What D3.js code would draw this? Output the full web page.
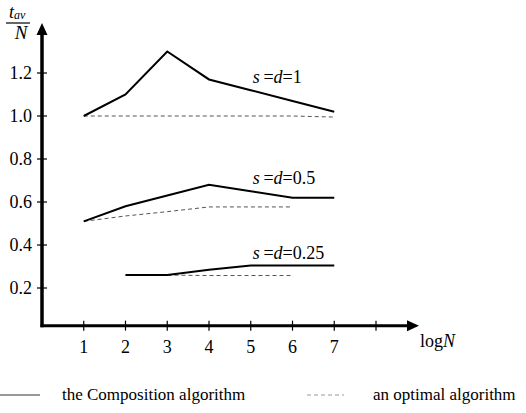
<!DOCTYPE html>
<html>
<head>
<meta charset="utf-8">
<script src="https://cdn.jsdelivr.net/npm/d3@7"></script>
<style>
  body { margin: 0; background: #fff; }
  text { font-family: "Liberation Serif", "Times New Roman", serif; fill: #000; }
</style>
</head>
<body>
<script>
var logN = [1, 2, 3, 4, 5, 6, 7];
var xTicks = [1, 2, 3, 4, 5, 6, 7, 8];
var xTickLabels = ["1", "2", "3", "4", "5", "6", "7", ""];
var yTicks = [0.2, 0.4, 0.6, 0.8, 1.0, 1.2];

// composition algorithm (solid)
var comp1 = [1.0, 1.1, 1.3, 1.17, 1.12, 1.07, 1.02];
var comp05 = [0.51, 0.58, 0.63, 0.68, 0.65, 0.62, 0.62];
var comp025 = [null, 0.26, 0.26, 0.285, 0.305, 0.305, 0.305];

// optimal algorithm (dashed)
var opt1 = [1.0, 1.0, 1.0, 1.0, 1.0, 1.0, 0.995];
var opt05 = [0.51, 0.535, 0.555, 0.577, 0.577, 0.577, null];
var opt025 = [null, 0.26, 0.26, 0.258, 0.258, 0.258, null];

var seriesLabels = [
    { s: "0.25", v: 0.335, x: 5.05 },
    { s: "0.5", v: 0.685, x: 5.05 },
    { s: "1", v: 1.155, x: 5.05 }
];

function init() {
    var w = 526, h = 413;

    var svg = d3.select("body").append("svg")
        .attr("width", w)
        .attr("height", h);

    var x = d3.scaleLinear().domain([0, 8]).range([42, 376]);
    var y = d3.scaleLinear().domain([0, 1.2]).range([331, 73]);
    var axisY = y(0.025);

    var line = d3.line()
        .defined(function(d) { return d[1] != null; })
        .x(function(d) { return x(d[0]); })
        .y(function(d) { return y(d[1]); });

    function pairs(vals) {
        return logN.map(function(n, i) { return [n, vals[i]]; });
    }

    [opt1, opt05, opt025].forEach(function(s) {
        svg.append("path")
            .attr("d", line(pairs(s)))
            .attr("fill", "none")
            .attr("stroke", "#555")
            .attr("stroke-width", 1)
            .attr("stroke-dasharray", "4,3");
    });

    [comp1, comp05, comp025].forEach(function(s) {
        svg.append("path")
            .attr("d", line(pairs(s)))
            .attr("fill", "none")
            .attr("stroke", "#000")
            .attr("stroke-width", 2)
            .attr("stroke-linejoin", "miter");
    });

    // axes
    svg.append("line")
        .attr("x1", x(0)).attr("x2", x(0))
        .attr("y1", axisY + 1.5).attr("y2", 32)
        .attr("stroke", "#000").attr("stroke-width", 3.5);
    svg.append("path")
        .attr("d", "M" + x(0) + ",23 L" + (x(0) - 5.5) + ",35 L" + (x(0) + 5.5) + ",35 Z")
        .attr("fill", "#000");

    svg.append("line")
        .attr("x1", x(0) - 1.5).attr("x2", 410)
        .attr("y1", axisY).attr("y2", axisY)
        .attr("stroke", "#000").attr("stroke-width", 3);
    svg.append("path")
        .attr("d", "M419," + axisY + " L407," + (axisY - 5.5) + " L407," + (axisY + 5.5) + " Z")
        .attr("fill", "#000");

    svg.selectAll(".xt").data(xTicks).enter().append("line")
        .attr("x1", function(d) { return x(d); })
        .attr("x2", function(d) { return x(d); })
        .attr("y1", axisY - 5).attr("y2", axisY + 5)
        .attr("stroke", "#000").attr("stroke-width", 1.2);
    svg.selectAll(".xl").data(xTicks).enter().append("text")
        .attr("x", function(d) { return x(d); })
        .attr("y", 353)
        .attr("text-anchor", "middle")
        .style("font-size", "18px")
        .text(function(d, i) { return xTickLabels[i]; });

    svg.selectAll(".yt").data(yTicks).enter().append("line")
        .attr("x1", x(0) - 5).attr("x2", x(0) + 5)
        .attr("y1", function(d) { return y(d); })
        .attr("y2", function(d) { return y(d); })
        .attr("stroke", "#000").attr("stroke-width", 1.2);
    svg.selectAll(".yl").data(yTicks).enter().append("text")
        .attr("x", 32)
        .attr("y", function(d) { return y(d) + 6; })
        .attr("text-anchor", "end")
        .style("font-size", "18px")
        .text(function(d) { return d.toFixed(1); });

    // axis titles
    var xt = svg.append("text").attr("x", 420).attr("y", 347).style("font-size", "18px");
    xt.append("tspan").text("log");
    xt.append("tspan").style("font-style", "italic").text("N");

    var yt = svg.append("text").attr("x", 9).attr("y", 18).style("font-size", "18px");
    yt.append("tspan").style("font-style", "italic").text("t");
    yt.append("tspan").style("font-style", "italic").style("font-size", "12px")
        .attr("dy", 1).text("av");
    svg.append("line").attr("x1", 6).attr("x2", 30).attr("y1", 23).attr("y2", 23)
        .attr("stroke", "#000").attr("stroke-width", 1.2);
    svg.append("text").attr("x", 21).attr("y", 39).attr("text-anchor", "middle")
        .style("font-size", "19px").style("font-style", "italic").text("N");

    // series labels
    seriesLabels.forEach(function(l) {
        var t = svg.append("text")
            .attr("x", x(l.x))
            .attr("y", y(l.v))
            .style("font-size", "18px");
        t.append("tspan").style("font-style", "italic").text("s");
        t.append("tspan").text("\u2009=");
        t.append("tspan").style("font-style", "italic").text("d");
        t.append("tspan").text("=" + l.s);
    });

    // legend
    var ly = 395;
    svg.append("line").attr("x1", 0).attr("x2", 40).attr("y1", ly).attr("y2", ly)
        .attr("stroke", "#777").attr("stroke-width", 1.5);
    svg.append("text").attr("x", 62).attr("y", ly + 5).style("font-size", "17px")
        .text("the Composition algorithm");
    svg.append("line").attr("x1", 307).attr("x2", 344).attr("y1", ly).attr("y2", ly)
        .attr("stroke", "#999").attr("stroke-width", 1).attr("stroke-dasharray", "4,3");
    svg.append("text").attr("x", 373).attr("y", ly + 5).style("font-size", "17px")
        .text("an optimal algorithm");
}

window.onload = init;
</script>
</body>
</html>
